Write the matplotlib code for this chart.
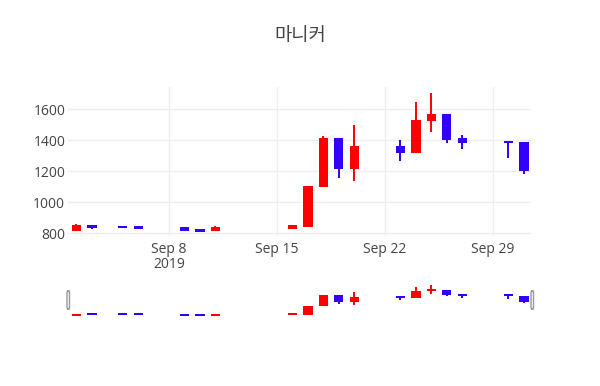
import matplotlib
matplotlib.use("Agg")
import matplotlib.pyplot as plt
import matplotlib.dates as mdates
from matplotlib.patches import FancyBboxPatch
import numpy as np
import pandas as pd

plt.rcParams['font.family'] = ['Open Sans', 'Noto Sans CJK KR', 'DejaVu Sans']

dates = ['2019-09-02', '2019-09-03', '2019-09-05', '2019-09-06', '2019-09-09',
         '2019-09-10', '2019-09-11', '2019-09-16', '2019-09-17', '2019-09-18',
         '2019-09-19', '2019-09-20', '2019-09-23', '2019-09-24', '2019-09-25',
         '2019-09-26', '2019-09-27', '2019-09-30', '2019-10-01']
opens  = [813, 852, 848, 843, 841, 828, 813, 828, 839, 1094, 1412, 1213, 1362, 1319, 1520, 1570, 1414, 1392, 1388]
highs  = [860, 852, 848, 843, 841, 828, 845, 850, 1103, 1427, 1412, 1494, 1397, 1643, 1704, 1570, 1431, 1392, 1388]
lows   = [812, 826, 830, 826, 815, 809, 813, 828, 839, 1094, 1152, 1135, 1267, 1319, 1449, 1384, 1343, 1286, 1183]
closes = [850, 830, 830, 826, 815, 809, 841, 850, 1103, 1412, 1213, 1362, 1319, 1529, 1570, 1403, 1384, 1379, 1202]

inc_color = '#ff0000'
dec_color = '#3300ff'

x = mdates.date2num(pd.to_datetime(dates))
o = np.array(opens)
c = np.array(closes)
colors = [inc_color if cc >= oo else dec_color for oo, cc in zip(o, c)]

fig = plt.figure(figsize=(6, 3.86), dpi=100)
ax = fig.add_axes([68 / 600, 1 - 236 / 386, 463 / 600, 149 / 386])
sl = fig.add_axes([68 / 600, 1 - 318 / 386, 463 / 600, 35 / 386])


def candles(a, lw, minh):
    a.vlines(x, lows, highs, colors=colors, linewidth=lw, zorder=2)
    body = np.maximum(np.abs(c - o), minh)
    a.bar(x, body, bottom=np.minimum(o, c), width=0.6, color=colors,
          linewidth=0, zorder=3)


candles(ax, 1.4, 12)
candles(sl, 1.4, 60)

xmin = x[0] - 0.55
xmax = x[-1] + 0.46
for a in (ax, sl):
    a.set_xlim(xmin, xmax)
    for s in a.spines.values():
        s.set_visible(False)

ax.set_ylim(781, 1742)
ax.set_yticks([800, 1000, 1200, 1400, 1600])
ax.grid(True, color='#eeeeee', linewidth=1)
ax.set_axisbelow(True)
ticks = mdates.date2num(pd.to_datetime(['2019-09-08', '2019-09-15', '2019-09-22', '2019-09-29']))
ax.set_xticks(ticks)
ax.set_xticklabels(['Sep 8\n2019', 'Sep 15', 'Sep 22', 'Sep 29'], linespacing=1.0)
ax.tick_params(length=0, labelsize=10, colors='#444444', pad=4)
ax.tick_params(axis='y', pad=2)

sl.set_ylim(751, 1762)
sl.set_xticks([])
sl.set_yticks([])

for hx in (67, 531):
    fig.patches.append(FancyBboxPatch((hx / 600, 1 - 309 / 386), 2.5 / 600, 18 / 386,
                                      boxstyle='round,pad=0,rounding_size=0.004',
                                      transform=fig.transFigure, facecolor='white',
                                      edgecolor='#999999', linewidth=1, zorder=5))

fig.text(0.5, 1 - 36 / 386, '마니커', ha='center', va='center', fontsize=13.5,
         color='#444444', family=['Noto Sans CJK KR', 'DejaVu Sans'])

fig.savefig('out.png', dpi=100)
